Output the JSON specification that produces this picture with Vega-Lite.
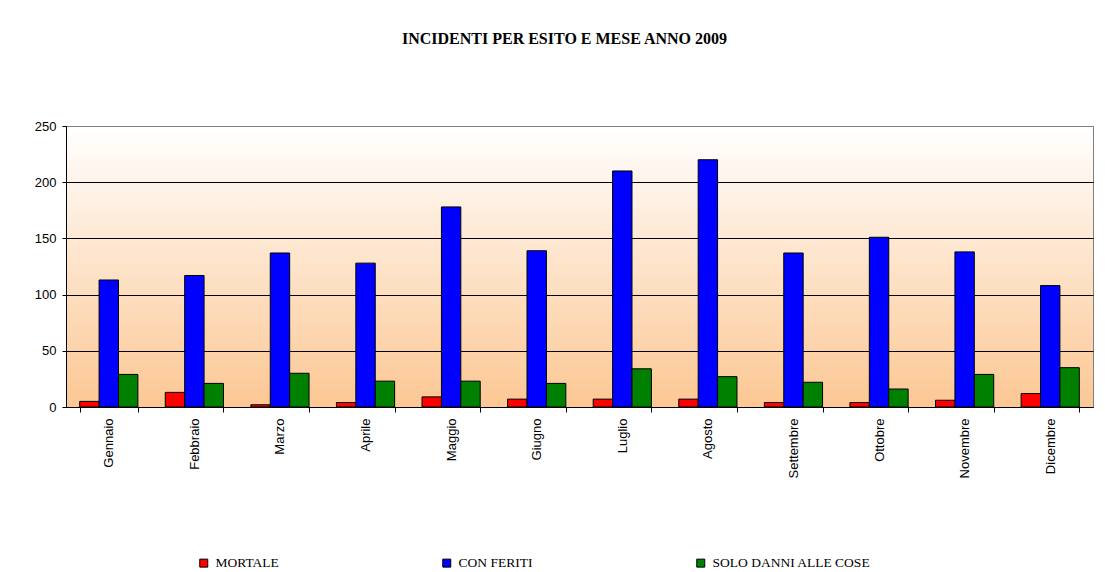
{
  "$schema": "https://vega.github.io/schema/vega-lite/v6.json",
  "width": 1027,
  "height": 281,
  "padding": {"left": 34, "top": 31, "right": 13, "bottom": 0},
  "background": "white",
  "title": {
    "text": "INCIDENTI PER ESITO E MESE ANNO 2009",
    "font": "Liberation Serif",
    "fontSize": 16,
    "fontWeight": "bold",
    "color": "black",
    "anchor": "middle",
    "dx": -15,
    "offset": 73
  },
  "data": {
    "values": [
      {"mese": "Gennaio", "esito": "MORTALE", "valore": 5},
      {"mese": "Gennaio", "esito": "CON FERITI", "valore": 113},
      {"mese": "Gennaio", "esito": "SOLO DANNI ALLE COSE", "valore": 29},
      {"mese": "Febbraio", "esito": "MORTALE", "valore": 13},
      {"mese": "Febbraio", "esito": "CON FERITI", "valore": 117},
      {"mese": "Febbraio", "esito": "SOLO DANNI ALLE COSE", "valore": 21},
      {"mese": "Marzo", "esito": "MORTALE", "valore": 2},
      {"mese": "Marzo", "esito": "CON FERITI", "valore": 137},
      {"mese": "Marzo", "esito": "SOLO DANNI ALLE COSE", "valore": 30},
      {"mese": "Aprile", "esito": "MORTALE", "valore": 4},
      {"mese": "Aprile", "esito": "CON FERITI", "valore": 128},
      {"mese": "Aprile", "esito": "SOLO DANNI ALLE COSE", "valore": 23},
      {"mese": "Maggio", "esito": "MORTALE", "valore": 9},
      {"mese": "Maggio", "esito": "CON FERITI", "valore": 178},
      {"mese": "Maggio", "esito": "SOLO DANNI ALLE COSE", "valore": 23},
      {"mese": "Giugno", "esito": "MORTALE", "valore": 7},
      {"mese": "Giugno", "esito": "CON FERITI", "valore": 139},
      {"mese": "Giugno", "esito": "SOLO DANNI ALLE COSE", "valore": 21},
      {"mese": "Luglio", "esito": "MORTALE", "valore": 7},
      {"mese": "Luglio", "esito": "CON FERITI", "valore": 210},
      {"mese": "Luglio", "esito": "SOLO DANNI ALLE COSE", "valore": 34},
      {"mese": "Agosto", "esito": "MORTALE", "valore": 7},
      {"mese": "Agosto", "esito": "CON FERITI", "valore": 220},
      {"mese": "Agosto", "esito": "SOLO DANNI ALLE COSE", "valore": 27},
      {"mese": "Settembre", "esito": "MORTALE", "valore": 4},
      {"mese": "Settembre", "esito": "CON FERITI", "valore": 137},
      {"mese": "Settembre", "esito": "SOLO DANNI ALLE COSE", "valore": 22},
      {"mese": "Ottobre", "esito": "MORTALE", "valore": 4},
      {"mese": "Ottobre", "esito": "CON FERITI", "valore": 151},
      {"mese": "Ottobre", "esito": "SOLO DANNI ALLE COSE", "valore": 16},
      {"mese": "Novembre", "esito": "MORTALE", "valore": 6},
      {"mese": "Novembre", "esito": "CON FERITI", "valore": 138},
      {"mese": "Novembre", "esito": "SOLO DANNI ALLE COSE", "valore": 29},
      {"mese": "Dicembre", "esito": "MORTALE", "valore": 12},
      {"mese": "Dicembre", "esito": "CON FERITI", "valore": 108},
      {"mese": "Dicembre", "esito": "SOLO DANNI ALLE COSE", "valore": 35}
    ]
  },
  "mark": {"type": "bar", "stroke": "black", "strokeWidth": 1},
  "encoding": {
    "x": {
      "field": "mese",
      "type": "nominal",
      "sort": ["Gennaio", "Febbraio", "Marzo", "Aprile", "Maggio", "Giugno", "Luglio", "Agosto", "Settembre", "Ottobre", "Novembre", "Dicembre"],
      "scale": {"paddingInner": 0.32, "paddingOuter": 0.16},
      "axis": {
        "title": null,
        "labelAngle": -90,
        "labelFont": "Liberation Sans",
        "labelFontSize": 13,
        "labelColor": "black",
        "labelPadding": 6,
        "tickBand": "extent",
        "tickColor": "black",
        "tickSize": 5,
        "domainColor": "black",
        "grid": false
      }
    },
    "xOffset": {
      "field": "esito",
      "type": "nominal",
      "sort": ["MORTALE", "CON FERITI", "SOLO DANNI ALLE COSE"],
      "scale": {"paddingInner": 0, "paddingOuter": 0}
    },
    "y": {
      "field": "valore",
      "type": "quantitative",
      "scale": {"domain": [0, 250], "nice": false},
      "axis": {
        "title": null,
        "values": [0, 50, 100, 150, 200, 250],
        "labelFont": "Liberation Sans",
        "labelFontSize": 13,
        "labelColor": "black",
        "labelPadding": 6,
        "tickColor": "black",
        "tickSize": 4,
        "domainColor": "black",
        "grid": true,
        "gridColor": {"condition": {"test": "datum.value === 250", "value": "#808080"}, "value": "black"},
        "gridOpacity": 1,
        "gridWidth": 1
      }
    },
    "color": {
      "field": "esito",
      "type": "nominal",
      "sort": ["MORTALE", "CON FERITI", "SOLO DANNI ALLE COSE"],
      "scale": {
        "domain": ["MORTALE", "CON FERITI", "SOLO DANNI ALLE COSE"],
        "range": ["#FF0000", "#0000FF", "#008000"]
      },
      "legend": {
        "title": null,
        "orient": "none",
        "legendX": 131,
        "legendY": 430,
        "direction": "horizontal",
        "columnPadding": 161,
        "symbolType": "square",
        "symbolSize": 64,
        "symbolStrokeColor": "black",
        "symbolStrokeWidth": 1,
        "symbolOpacity": 1,
        "labelFont": "Liberation Serif",
        "labelFontSize": 13.5,
        "labelColor": "black",
        "labelOffset": 5
      }
    }
  },
  "config": {
    "view": {
      "stroke": "#808080",
      "strokeWidth": 1,
      "fill": {
        "gradient": "linear",
        "x1": 0, "y1": 0, "x2": 0, "y2": 1,
        "stops": [
          {"offset": 0, "color": "#FFFFFF"},
          {"offset": 1, "color": "#FCC793"}
        ]
      }
    }
  }
}
